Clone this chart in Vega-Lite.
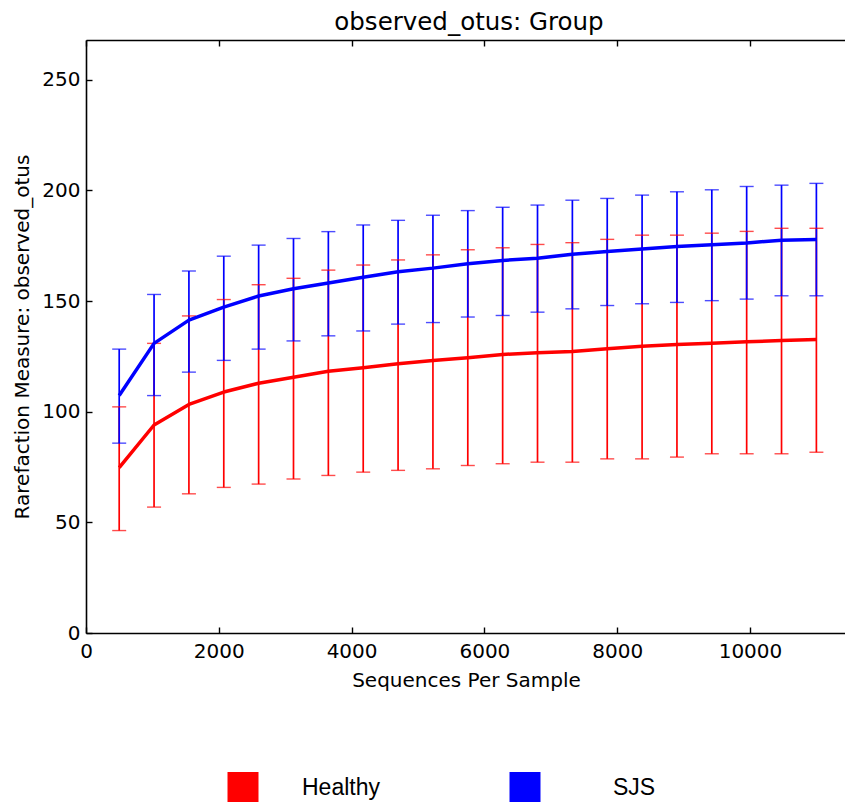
{
  "$schema": "https://vega.github.io/schema/vega-lite/v6.json",
  "autosize": "none",
  "width": 760,
  "height": 593,
  "padding": {"left": 86, "top": 40, "right": 0, "bottom": 169},
  "background": "white",
  "title": {"text": "observed_otus: Group", "font": "DejaVu Sans", "fontSize": 24.5, "fontWeight": "normal", "color": "black", "offset": 4, "anchor": "middle", "dx": 3},
  "config": {
    "view": {"stroke": null},
    "axis": {"grid": false, "domainColor": "black", "tickColor": "black", "labelColor": "black", "titleColor": "black", "labelFont": "DejaVu Sans", "titleFont": "DejaVu Sans", "labelFontSize": 20, "titleFontSize": 20, "titleFontWeight": "normal", "domainWidth": 1.6, "tickWidth": 1.4, "labelFlush": false, "labelOverlap": false, "labelBound": false}
  },
  "data": {"values": [
    {"group": "Healthy", "x": 500, "mean": 74.7, "lower": 46.3, "upper": 102.2},
    {"group": "Healthy", "x": 1025, "mean": 94.0, "lower": 56.9, "upper": 130.9},
    {"group": "Healthy", "x": 1550, "mean": 103.3, "lower": 62.9, "upper": 143.3},
    {"group": "Healthy", "x": 2075, "mean": 108.9, "lower": 65.8, "upper": 150.7},
    {"group": "Healthy", "x": 2600, "mean": 112.9, "lower": 67.3, "upper": 157.4},
    {"group": "Healthy", "x": 3125, "mean": 115.6, "lower": 69.6, "upper": 160.3},
    {"group": "Healthy", "x": 3650, "mean": 118.3, "lower": 71.2, "upper": 164.0},
    {"group": "Healthy", "x": 4175, "mean": 119.9, "lower": 72.7, "upper": 166.3},
    {"group": "Healthy", "x": 4700, "mean": 121.7, "lower": 73.5, "upper": 168.6},
    {"group": "Healthy", "x": 5225, "mean": 123.2, "lower": 74.2, "upper": 170.9},
    {"group": "Healthy", "x": 5750, "mean": 124.4, "lower": 75.7, "upper": 173.2},
    {"group": "Healthy", "x": 6275, "mean": 125.9, "lower": 76.5, "upper": 174.1},
    {"group": "Healthy", "x": 6800, "mean": 126.7, "lower": 77.2, "upper": 175.6},
    {"group": "Healthy", "x": 7325, "mean": 127.2, "lower": 77.2, "upper": 176.4},
    {"group": "Healthy", "x": 7850, "mean": 128.5, "lower": 78.7, "upper": 177.9},
    {"group": "Healthy", "x": 8375, "mean": 129.6, "lower": 78.7, "upper": 179.8},
    {"group": "Healthy", "x": 8900, "mean": 130.4, "lower": 79.5, "upper": 179.8},
    {"group": "Healthy", "x": 9425, "mean": 131.0, "lower": 81.0, "upper": 180.7},
    {"group": "Healthy", "x": 9950, "mean": 131.6, "lower": 81.0, "upper": 181.5},
    {"group": "Healthy", "x": 10475, "mean": 132.2, "lower": 81.0, "upper": 182.9},
    {"group": "Healthy", "x": 11000, "mean": 132.7, "lower": 81.7, "upper": 182.9},
    {"group": "SJS", "x": 500, "mean": 107.3, "lower": 85.8, "upper": 128.3},
    {"group": "SJS", "x": 1025, "mean": 130.9, "lower": 107.3, "upper": 153.0},
    {"group": "SJS", "x": 1550, "mean": 141.4, "lower": 117.9, "upper": 163.6},
    {"group": "SJS", "x": 2075, "mean": 147.3, "lower": 123.2, "upper": 170.3},
    {"group": "SJS", "x": 2600, "mean": 152.3, "lower": 128.3, "upper": 175.3},
    {"group": "SJS", "x": 3125, "mean": 155.6, "lower": 132.0, "upper": 178.3},
    {"group": "SJS", "x": 3650, "mean": 158.2, "lower": 134.3, "upper": 181.4},
    {"group": "SJS", "x": 4175, "mean": 160.8, "lower": 136.5, "upper": 184.4},
    {"group": "SJS", "x": 4700, "mean": 163.3, "lower": 139.6, "upper": 186.5},
    {"group": "SJS", "x": 5225, "mean": 164.9, "lower": 140.3, "upper": 188.8},
    {"group": "SJS", "x": 5750, "mean": 166.9, "lower": 142.8, "upper": 190.9},
    {"group": "SJS", "x": 6275, "mean": 168.4, "lower": 143.5, "upper": 192.4},
    {"group": "SJS", "x": 6800, "mean": 169.4, "lower": 145.0, "upper": 193.4},
    {"group": "SJS", "x": 7325, "mean": 171.2, "lower": 146.5, "upper": 195.6},
    {"group": "SJS", "x": 7850, "mean": 172.4, "lower": 148.0, "upper": 196.4},
    {"group": "SJS", "x": 8375, "mean": 173.5, "lower": 148.8, "upper": 197.9},
    {"group": "SJS", "x": 8900, "mean": 174.7, "lower": 149.4, "upper": 199.4},
    {"group": "SJS", "x": 9425, "mean": 175.5, "lower": 150.2, "upper": 200.3},
    {"group": "SJS", "x": 9950, "mean": 176.3, "lower": 150.9, "upper": 201.8},
    {"group": "SJS", "x": 10475, "mean": 177.5, "lower": 152.4, "upper": 202.4},
    {"group": "SJS", "x": 11000, "mean": 177.8, "lower": 152.4, "upper": 203.2}
  ]},
  "encoding": {
    "x": {"field": "x", "type": "quantitative", "scale": {"domain": [0, 11446], "nice": false, "zero": false}, "axis": null},
    "color": {"field": "group", "type": "nominal", "scale": {"domain": ["Healthy", "SJS"], "range": ["#ff0000", "#0000ff"]},
      "legend": {"orient": "none", "legendX": 141.5, "legendY": 732, "direction": "horizontal", "columns": 2, "columnPadding": 129, "padding": 0, "title": null,
        "labelFont": "Liberation Sans", "labelFontSize": 23, "labelColor": "black", "labelOffset": 43.5,
        "symbolType": "square", "symbolSize": 961, "symbolStrokeWidth": 0,
        "encode": {
          "symbols": {"update": {"fill": {"scale": "color", "field": "value"}, "fillOpacity": {"value": 1}, "strokeWidth": {"value": 0}}},
          "labels": {"update": {"dx": {"signal": "datum.value === 'SJS' ? 29 : 0"}}}
        }}}
  },
  "layer": [
    {"mark": {"type": "rule", "strokeWidth": 1.7},
     "encoding": {"y": {"field": "lower", "type": "quantitative"}, "y2": {"field": "upper"}}},
    {"mark": {"type": "tick", "orient": "horizontal", "size": 14, "thickness": 1.4},
     "encoding": {"y": {"field": "lower", "type": "quantitative"}}},
    {"mark": {"type": "tick", "orient": "horizontal", "size": 14, "thickness": 1.4},
     "encoding": {"y": {"field": "upper", "type": "quantitative"}}},
    {"mark": {"type": "line", "strokeWidth": 3.5, "strokeJoin": "round"},
     "encoding": {
       "x": {"field": "x", "type": "quantitative",
         "axis": {"orient": "bottom", "title": "Sequences Per Sample", "format": "d", "values": [0, 2000, 4000, 6000, 8000, 10000], "tickSize": -6, "labelPadding": 14, "titlePadding": 9}},
       "y": {"field": "mean", "type": "quantitative", "scale": {"domain": [0, 268], "nice": false},
         "axis": {"title": "Rarefaction Measure: observed_otus", "values": [0, 50, 100, 150, 200, 250], "tickSize": -6, "labelPadding": 12, "titlePadding": 9}}
     }},
    {"mark": {"type": "rule", "strokeWidth": 0},
     "encoding": {"y": {"datum": 0, "type": "quantitative"}, "color": {"value": "black"},
       "x": {"field": "x", "type": "quantitative", "axis": {"orient": "top", "title": null, "labels": false, "values": [0, 2000, 4000, 6000, 8000, 10000], "tickSize": -6}}}}
  ],
  "resolve": {"axis": {"x": "independent"}}
}
